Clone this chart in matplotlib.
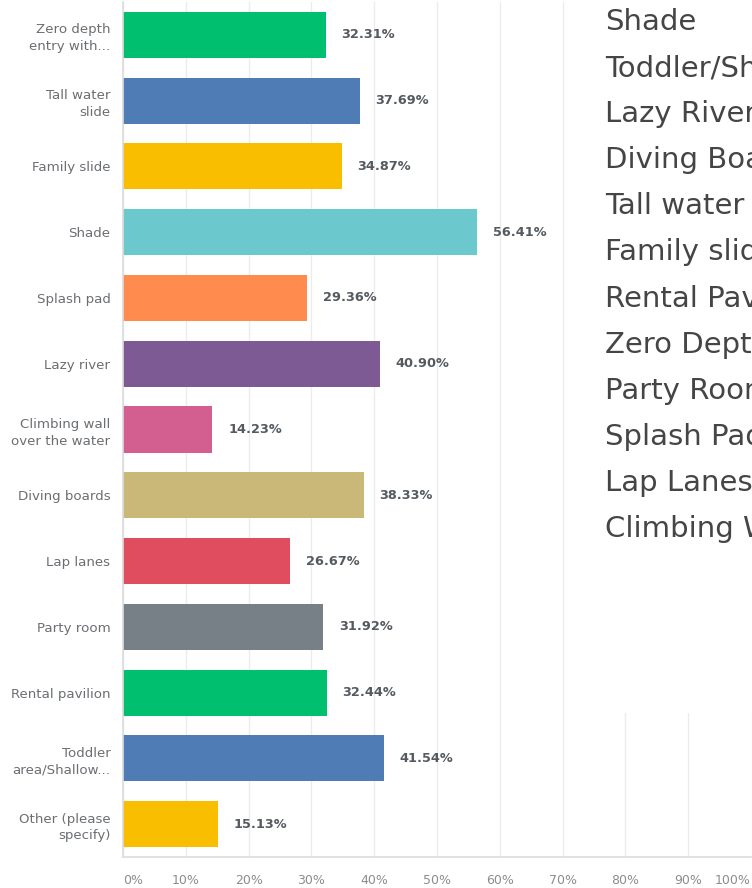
import matplotlib.pyplot as plt
from matplotlib.patches import Rectangle

# survey answers, top to bottom
categories = [
    "Zero depth\nentry with...",
    "Tall water\nslide",
    "Family slide",
    "Shade",
    "Splash pad",
    "Lazy river",
    "Climbing wall\nover the water",
    "Diving boards",
    "Lap lanes",
    "Party room",
    "Rental pavilion",
    "Toddler\narea/Shallow...",
    "Other (please\nspecify)",
]
values = [32.31, 37.69, 34.87, 56.41, 29.36, 40.90, 14.23, 38.33, 26.67, 31.92, 32.44, 41.54, 15.13]
colors = ["#00bf6f", "#507cb6", "#f9be00", "#6bc8cd", "#ff8b4f", "#7d5a94", "#d25f90",
          "#c9b878", "#df4d5f", "#768086", "#00bf6f", "#507cb6", "#f9be00"]
xticks = [0, 10, 20, 30, 40, 50, 60, 70, 80, 90, 100]

# ranking list pasted over the right side of the screenshot
ranking = ["Shade", "Toddler/Shallow Area", "Lazy River", "Diving Boards", "Tall water slide",
           "Family slide", "Rental Pavilion", "Zero Depth Entry", "Party Room", "Splash Pad",
           "Lap Lanes", "Climbing Wall"]

W, H = 752, 888
fig = plt.figure(figsize=(W / 100, H / 100), dpi=100)
ax = fig.add_axes([123 / W, 1 - 857 / H, 628 / W, 855 / H])

y = list(range(len(categories)))
ax.barh(y, values, height=0.7, color=colors, zorder=2)
for yi, v in zip(y, values):
    ax.text(v + 2.5, yi, f"{v:.2f}%", va="center", ha="left", fontsize=9.3,
            fontweight="bold", color="#555a60", zorder=3)

ax.set_ylim(len(categories) - 0.5, -0.5)
ax.set_xlim(0, 100)
ax.set_yticks(y)
ax.set_yticklabels(categories, fontsize=9.6, color="#6b6e72", linespacing=1.35)
ax.set_xticks(xticks)
ax.set_xticklabels([f"{t}%" for t in xticks], fontsize=9, color="#8a8d90")
ax.get_xticklabels()[0].set_ha("left")
ax.get_xticklabels()[-1].set_ha("right")
ax.tick_params(axis="both", length=0)
ax.tick_params(axis="x", pad=12)
ax.tick_params(axis="y", pad=9)
ax.grid(axis="x", color="#ececec", linewidth=1, zorder=0)
for s in ["top", "right"]:
    ax.spines[s].set_visible(False)
for s in ["left", "bottom"]:
    ax.spines[s].set_color("#dcdcdc")
    ax.spines[s].set_linewidth(1.2)

# white box covering part of the chart
fig.patches.append(Rectangle((568 / W, 1 - 713 / H), (W - 568) / W, 713 / H,
                             transform=fig.transFigure, facecolor="white",
                             edgecolor="none", zorder=5))
for i, t in enumerate(ranking):
    fig.text(605 / W, 1 - (22 + i * 46.1) / H, t, fontsize=21, family="DejaVu Sans",
             color="#454545", va="center", ha="left", zorder=6)

fig.savefig("out.png", dpi=100)
